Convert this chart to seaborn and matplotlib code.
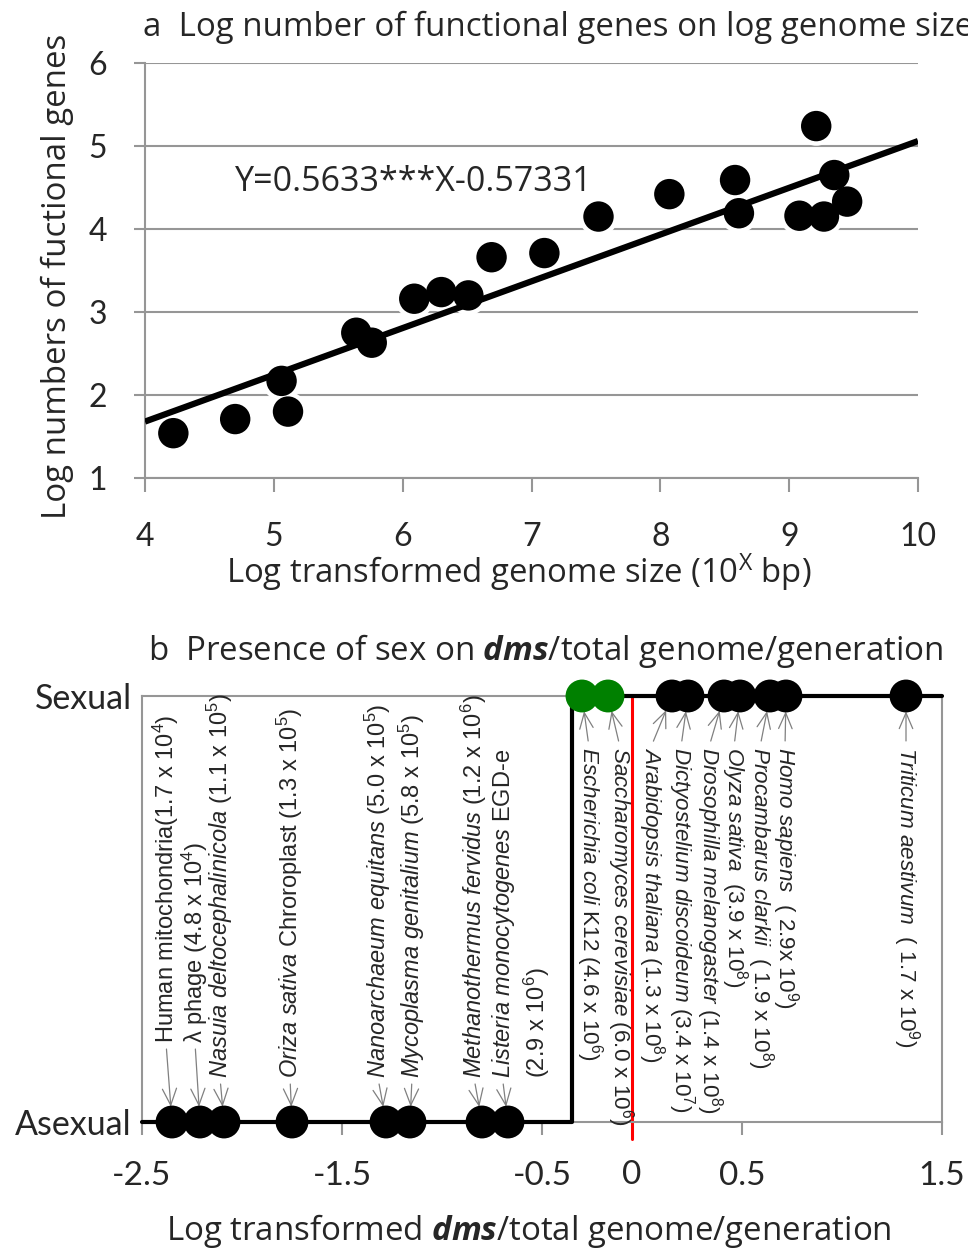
import matplotlib
matplotlib.use('Agg')
import matplotlib.pyplot as plt
import seaborn as sns
import pandas as pd
import numpy as np

# panel a: log genome size vs log number of functional genes
genome_size_log = [4.22, 4.70, 5.06, 5.11, 5.64, 5.76, 6.09, 6.30, 6.51, 6.69,
                   7.10, 7.52, 8.07, 8.58, 8.61, 9.08, 9.21, 9.27, 9.35, 9.45]
gene_number_log = [1.54, 1.71, 2.17, 1.80, 2.75, 2.63, 3.16, 3.24, 3.20, 3.66,
                   3.71, 4.15, 4.42, 4.59, 4.19, 4.16, 5.24, 4.15, 4.65, 4.33]
fit_slope = 0.5633
fit_intercept = -0.57331
fit_range = [4, 10]

# panel b: presence of sex vs log dms / total genome / generation
species_labels = [
    r"Human mitochondria(1.7 x 10$^4$)",
    r"λ phage (4.8 x 10$^4$)",
    r"$\mathit{Nasuia\ deltocephalinicola}$ (1.1 x 10$^5$)",
    r"$\mathit{Oriza\ sativa}$ Chroroplast (1.3 x 10$^5$)",
    r"$\mathit{Nanoarchaeum\ equitans}$ (5.0 x 10$^5$)",
    r"$\mathit{Mycoplasma\ genitalium}$ (5.8 x 10$^5$)",
    r"$\mathit{Methanothermus\ fervidus}$ (1.2 x 10$^6$)",
    "$\\mathit{Listeria\\ monocytogenes}$ EGD-e\n(2.9 x 10$^6$)",
    r"$\mathit{Escherichia\ coli}$ K12 (4.6 x 10$^6$)",
    r"$\mathit{Saccharomyces\ cerevisiae}$ (6.0 x 10$^6$)",
    r"$\mathit{Arabidopsis\ thaliana}$ (1.3 x 10$^8$)",
    r"$\mathit{Dictyostelium\ discoideum}$ (3.4 x 10$^7$)",
    r"$\mathit{Drosophilla\ melanogaster}$ (1.4 x 10$^8$)",
    r"$\mathit{Olyza\ sativa}$  (3.9 x 10$^8$)",
    r"$\mathit{Procambarus\ clarkii}$  ( 1.9 x 10$^8$)",
    r"$\mathit{Homo\ sapiens}$  ( 2.9x 10$^9$)",
    r"$\mathit{Triticum\ aestivum}$  ( 1.7 x 10$^9$)",
]
dms_log = [-2.35, -2.21, -2.09, -1.75, -1.28, -1.16, -0.80, -0.67,
           -0.30, -0.17, 0.15, 0.23, 0.41, 0.49, 0.64, 0.72, 1.32]
is_sexual = [0, 0, 0, 0, 0, 0, 0, 0,
             1, 1, 1, 1, 1, 1, 1, 1, 1]
point_group = ['other'] * 8 + ['highlight', 'highlight'] + ['other'] * 7
step_dms = [-2.5, -0.35, 1.5]
step_sex = [0, 1, 1]
zero_mark = -0.05
dms_ticks = [-2.5, -1.5, -0.5, 0.5, 1.5]
dms_tick_labels = ['-2.5', '-1.5', '-0.5', '0.5', '1.5']

# label placement relative to each point (pixels)
label_dx = [-6, -5, -4, -2, -8, 2, -8, 13, 7, 12, -21, -7, -15, -6, -10, -1, 0]
label_dy = [79, 79, 44, 44, 44, 44, 44, 44] + [-51] * 9

sns.set_style('white')
plt.rcParams['font.family'] = ['Lato', 'DejaVu Sans']
plt.rcParams['mathtext.fontset'] = 'custom'
plt.rcParams['mathtext.rm'] = 'Liberation Sans'
plt.rcParams['mathtext.it'] = 'Liberation Sans:italic'
plt.rcParams['mathtext.bf'] = 'Open Sans:italic:bold'
plt.rcParams['mathtext.default'] = 'regular'
plt.rcParams['axes.unicode_minus'] = False

grey = '#969696'
label_font = 'Open Sans'

fig = plt.figure(figsize=(9.68, 12.52), dpi=100)
ax_a = fig.add_axes([145 / 968, 1 - 478 / 1252, 773 / 968, 415 / 1252])
ax_b = fig.add_axes([142 / 968, 1 - 1122 / 1252, 800 / 968, 426 / 1252])

# ---------------- panel a ----------------
df_a = pd.DataFrame({'genome': genome_size_log, 'genes': gene_number_log})
# white glow behind the dots (breaks the grid lines like the original)
sns.scatterplot(data=df_a, x='genome', y='genes', ax=ax_a, s=800, color='white',
                edgecolor='none', zorder=2, legend=False)
sns.scatterplot(data=df_a, x='genome', y='genes', ax=ax_a, s=480, color='black',
                edgecolor='none', zorder=3, legend=False)
fit_x = np.array(fit_range)
ax_a.plot(fit_x, fit_slope * fit_x + fit_intercept, color='black', lw=4.5,
          zorder=4, solid_capstyle='butt')
ax_a.text(4.70, 4.57, 'Y=0.5633***X-0.57331', fontsize=24.5, va='center', ha='left',
          family=label_font)

ax_a.set_xlim(4, 10)
ax_a.set_ylim(1, 6)
ax_a.set_xticks(range(4, 11))
ax_a.set_yticks(range(1, 7))
ax_a.grid(axis='y', color=grey, lw=1.5)
ax_a.set_axisbelow(True)
for s in ['top', 'right']:
    ax_a.spines[s].set_visible(False)
for s in ['left', 'bottom']:
    ax_a.spines[s].set_color(grey)
    ax_a.spines[s].set_linewidth(1.5)
ax_a.tick_params(axis='x', bottom=True, direction='out', length=10, width=1.5,
                 color=grey, labelsize=23, pad=22)
ax_a.tick_params(axis='y', left=True, direction='out', length=8, width=1.5,
                 color=grey, labelsize=23, pad=19.5)
ax_a.set_xlabel('Log transformed genome size (10$^X$ bp)', fontsize=23.7,
                family=label_font)
ax_a.xaxis.set_label_coords(0.484, -0.177)
ax_a.set_ylabel('Log numbers of fuctional genes', fontsize=23.8,
                family=label_font)
ax_a.yaxis.set_label_coords(-0.092, 0.487)

fig.text(143 / 968, 1 - 27 / 1252, 'a  Log number of functional genes on log genome size',
         fontsize=23.8, va='center', ha='left', family=label_font)

# ---------------- panel b ----------------
df_b = pd.DataFrame({'dms': dms_log, 'sex': is_sexual, 'group': point_group,
                     'label': species_labels})

ax_b.axvline(zero_mark, ymin=-0.04, ymax=1, color='red', lw=2.2, zorder=2, clip_on=False)
ax_b.plot(step_dms, step_sex, drawstyle='steps-post', color='black', lw=3,
          zorder=3, clip_on=False)
sns.scatterplot(data=df_b, x='dms', y='sex', hue='group', ax=ax_b,
                palette={'other': 'black', 'highlight': 'green'}, s=560,
                edgecolor='none', zorder=4, legend=False, clip_on=False)

arrow_style = '->,head_length=0.7,head_width=0.3'
for i, row in df_b.iterrows():
    if row['sex'] == 0:
        rot, size = 90, 17
        relpos = (0.2, 0) if '\n' in row['label'] else (0.5, 0)
    else:
        rot, size = -90, 16.2
        relpos = (0.5, 1)
    ax_b.annotate(row['label'], xy=(row['dms'], row['sex']),
                  xytext=(label_dx[i], label_dy[i]), textcoords='offset pixels',
                  rotation=rot, rotation_mode='anchor', ha='left', va='center',
                  fontsize=size, family='Liberation Sans', annotation_clip=False,
                  arrowprops=dict(arrowstyle=arrow_style, color='#808080', lw=0.9,
                                  shrinkA=2, shrinkB=11, relpos=relpos))

ax_b.set_xlim(-2.5, 1.5)
ax_b.set_ylim(0, 1)
ax_b.set_xticks(dms_ticks)
ax_b.set_xticklabels(dms_tick_labels)
ax_b.set_yticks([0, 1])
ax_b.set_yticklabels(['Asexual', 'Sexual'])
for s in ax_b.spines.values():
    s.set_color(grey)
    s.set_linewidth(1.5)
ax_b.tick_params(axis='x', bottom=True, direction='out', length=9, width=1.5,
                 color=grey, labelsize=24, pad=19)
ax_b.tick_params(axis='y', left=False, labelsize=24.5, pad=4)
ax_b.text(zero_mark, -0.124, '0', fontsize=24, ha='center', va='center')
ax_b.set_xlabel('Log transformed $\\mathbf{dms}$/total genome/generation',
                fontsize=23.8, family=label_font)
ax_b.xaxis.set_label_coords(0.484, -0.211)
ax_b.set_ylabel('')

fig.text(148 / 968, 1 - 651 / 1252, 'b  Presence of sex on $\\mathbf{dms}$/total genome/generation',
         fontsize=23.8, va='center', ha='left', family=label_font)

fig.savefig('out.png', dpi=100)
